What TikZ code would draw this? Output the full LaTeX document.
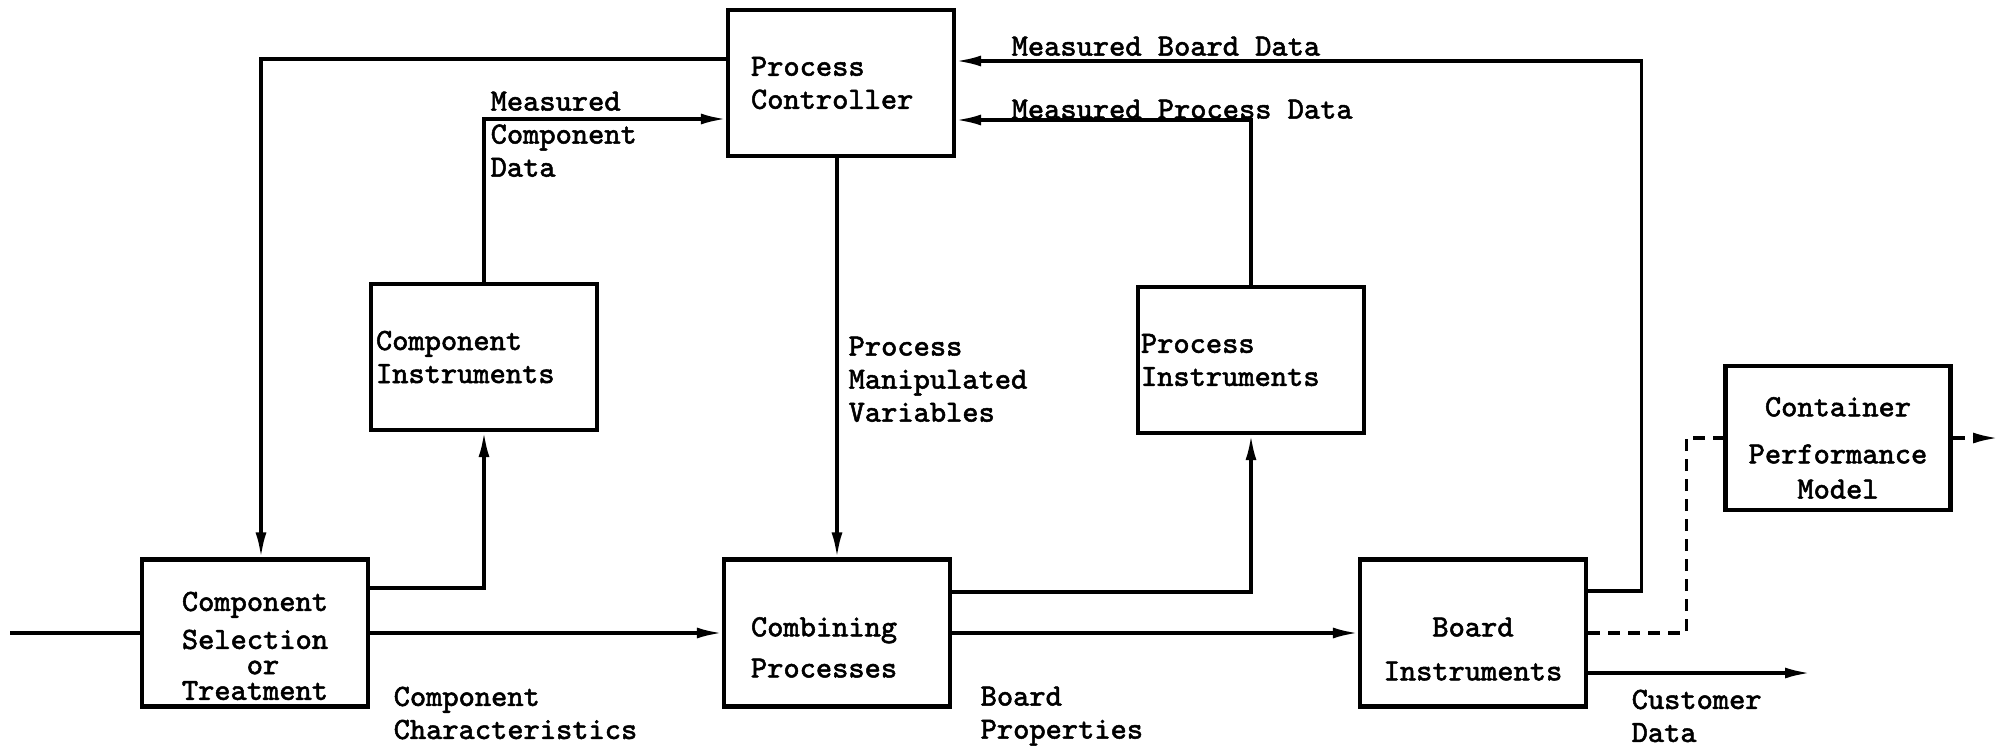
\documentclass[tikz,border=0pt]{standalone}
\usepackage{fontspec}
\setmonofont{Latin Modern Mono}[FakeBold=1.6]
\usetikzlibrary{positioning}
\usetikzlibrary{calc}
\usetikzlibrary{arrows.meta}
\tikzset{
  block/.style={draw, line width=1.2pt, minimum width=2.26cm, minimum height=1.46cm, inner sep=0pt},
  flow/.style={line width=0.9pt},
  feed/.style={flow, -{Latex[length=0.25cm,width=0.11cm]}},
  guess/.style={flow, dash pattern=on 0.12cm off 0.08cm},
  tag/.style={inner sep=0pt, align=left, anchor=north west},
}

\begin{document}
\begin{tikzpicture}[font=\ttfamily\fontsize{8.8}{9.4}\selectfont]
            \useasboundingbox (0,0) rectangle (20.06,-7.47);

            % boxes
            \node [block, text width=1.80cm, align=left] (pc) at (8.41,-0.83) {Process\\Controller};
            \node [block, text width=2.16cm, align=left] (ci) at (4.84,-3.57) {Component\\Instruments};
            \node [block, text width=2.20cm, align=left] (pi) at (12.51,-3.60) {Process\\Instruments};
            \node [block, minimum height=1.47cm, align=center] (cst) at (2.55,-6.33)
                {\rule{0pt}{4.5mm}Component\\[1.4pt]Selection\\[-2.2pt]\hspace*{0.16cm}or\\[-2.1pt]Treatment};
            \node [block, minimum height=1.47cm, text width=1.72cm, align=left] (cp) at (8.37,-6.33)
                {\rule{0pt}{4.8mm}Combining\\[2.3pt]Processes};
            \node [block, minimum height=1.47cm, align=center] (bi) at (14.73,-6.33)
                {\rule{0pt}{5.1mm}Board\\[3.1pt]Instruments};
            \node [block, minimum width=2.25cm, minimum height=1.44cm, align=center] (cpm) at (18.38,-4.38)
                {\rule{0pt}{3.9mm}Container\\[4pt]Performance\\[0.6pt]Model};

            % free ends
            \coordinate (in) at (0.10,-6.33);
            \coordinate (cust) at (18.10,-6.73);
            \coordinate (out) at (19.98,-4.38);

            % main line
            \draw [flow] (in) -- (cst.west);
            \draw [feed] (cst) -- (cp);
            \draw [feed] (cp) -- (bi);
            \draw [feed] ($(bi.east)+(0,-0.40)$) -- (cust);
            \draw [guess] (bi.east) -- ++(0.98,0) |- (cpm.west);
            \draw [guess, -{Latex[length=0.25cm,width=0.11cm]}] (cpm.east) -- (out);

            % loops
            \draw [feed] ($(cst.east)+(0,0.45)$) -| (ci.south);
            \draw [feed] (ci.north) |- ($(pc.west)+(0,-0.36)$);
            \draw [feed] ($(pc.west)+(0,0.24)$) -| ($(cst.north)+(0.06,0)$);
            \draw [feed] (pc.south -| cp.north) -- (cp.north);
            \draw [feed] ($(cp.east)+(0,0.41)$) -| (pi.south);
            \draw [feed] (pi.north) |- ($(pc.east)+(0,-0.37)$);
            \draw [feed] ($(bi.east)+(0,0.42)$) -- ++(0.53,0) |- ($(pc.east)+(0,0.22)$);

            % labels
            \node [tag] (mbd) at (10.11,-0.36) {Measured Board Data};
            \node [tag] (mpd) at (10.11,-0.99) {Measured Process Data};
            \node [tag] (mcd) at (4.90,-0.91) {Measured\\Component\\Data};
            \node [tag] (pmv) at (8.48,-3.36) {Process\\Manipulated\\Variables};
            \node [tag] (cc) at (3.93,-6.86) {Component\\Characteristics};
            \node [tag] (bp) at (9.80,-6.86) {Board\\Properties};
            \node [tag] (cd) at (16.31,-6.89) {Customer\\Data};
        \end{tikzpicture}
\end{document}
